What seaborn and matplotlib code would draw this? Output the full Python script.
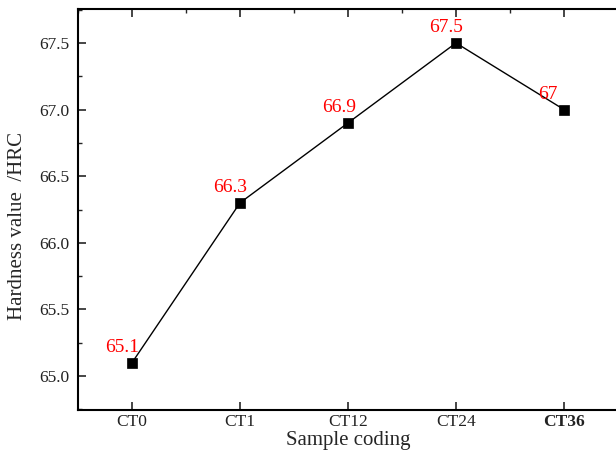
import matplotlib
matplotlib.use("Agg")
import matplotlib.pyplot as plt
import seaborn as sns
import pandas as pd
from matplotlib.ticker import MultipleLocator

categories = ["CT0", "CT1", "CT12", "CT24", "CT36"]
hardness = [65.1, 66.3, 66.9, 67.5, 67.0]
labels = ["65.1", "66.3", "66.9", "67.5", "67"]

sns.set_style("ticks")
plt.rcParams["font.family"] = ["Liberation Serif", "DejaVu Serif"]

df = pd.DataFrame({"x": range(len(categories)), "y": hardness})

fig = plt.figure(figsize=(6.16, 4.5), dpi=100)
ax = fig.add_axes([78 / 616, 40 / 450, 540 / 616, 401 / 450])

sns.lineplot(data=df, x="x", y="y", ax=ax, color="black", linewidth=1.0,
             marker="s", markersize=7, markerfacecolor="black",
             markeredgecolor="black", markeredgewidth=0.5)

dxs = [-9.5, -10, -8.5, -10, -16.5]
for i, (v, t) in enumerate(zip(hardness, labels)):
    ax.annotate(t, (i, v), xytext=(dxs[i], 11), textcoords="offset pixels",
                ha="center", va="baseline", color="red", fontsize=14)

ax.set_xlim(-0.5, 4.5)
ax.set_ylim(64.745, 67.755)
ax.set_xticks(range(len(categories)))
ax.set_xticklabels(categories, fontsize=12.5)
ax.get_xticklabels()[4].set_fontweight("bold")
ax.set_yticks([65.0, 65.5, 66.0, 66.5, 67.0, 67.5])
ax.set_yticklabels(["65.0", "65.5", "66.0", "66.5", "67.0", "67.5"], fontsize=12.5)
ax.yaxis.set_minor_locator(MultipleLocator(0.25))
ax.xaxis.set_minor_locator(MultipleLocator(0.5))

ax.tick_params(axis="both", which="major", direction="in", length=6, width=1.2,
               top=True, right=False, labelcolor="#222222")
ax.tick_params(axis="y", which="major", pad=6)
ax.tick_params(axis="x", which="major", pad=3)
ax.tick_params(axis="both", which="minor", direction="in", length=3, width=1.0,
               top=True, bottom=False, right=False)

for s in ["left", "bottom", "top", "right"]:
    ax.spines[s].set_visible(True)
    ax.spines[s].set_linewidth(1.5)
    ax.spines[s].set_color("black")

ax.set_xlabel("Sample coding", fontsize=15)
ax.xaxis.set_label_coords(0.5, -0.053)
ax.set_ylabel("Hardness value  /HRC", fontsize=15)
ax.yaxis.set_label_coords(-0.094, 0.46)

fig.savefig("out.png", dpi=100)
